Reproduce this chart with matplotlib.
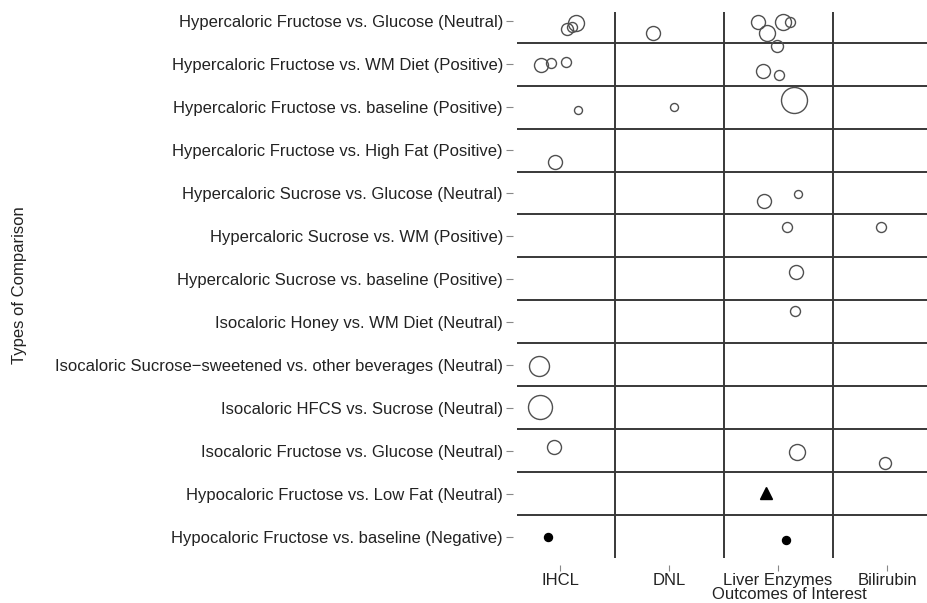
import matplotlib
matplotlib.use("Agg")
import matplotlib.pyplot as plt

plt.rcParams["font.family"] = ["Liberation Sans", "DejaVu Sans"]

OUTCOMES = ["IHCL", "DNL", "Liver Enzymes", "Bilirubin"]

COMPARISONS = [
    "Hypercaloric Fructose vs. Glucose (Neutral)",
    "Hypercaloric Fructose vs. WM Diet (Positive)",
    "Hypercaloric Fructose vs. baseline (Positive)",
    "Hypercaloric Fructose vs. High Fat (Positive)",
    "Hypercaloric Sucrose vs. Glucose (Neutral)",
    "Hypercaloric Sucrose vs. WM (Positive)",
    "Hypercaloric Sucrose vs. baseline (Positive)",
    "Isocaloric Honey vs. WM Diet (Neutral)",
    "Isocaloric Sucrose\u2212sweetened vs. other beverages (Neutral)",
    "Isocaloric HFCS vs. Sucrose (Neutral)",
    "Isocaloric Fructose vs. Glucose (Neutral)",
    "Hypocaloric Fructose vs. Low Fat (Neutral)",
    "Hypocaloric Fructose vs. baseline (Negative)",
]

# jittered study positions: outcome (1..4) and comparison row (0 = top)
study_x = [1.147, 1.064, 1.110, 1.853, 2.817, 2.899, 3.046, 3.110,
           2.991, 0.826, 0.917, 1.055, 2.862, 3.009,
           1.165, 2.046, 3.147,
           0.954,
           2.872, 3.183,
           3.083, 3.945,
           3.165,
           3.156,
           0.807,
           0.817,
           0.945, 3.174, 3.982,
           2.890,
           0.890, 3.073]
study_y = [0.05, 0.19, 0.14, 0.28, 0.02, 0.28, 0.02, 0.02,
           0.58, 1.02, 0.98, 0.95, 1.16, 1.26,
           2.07, 2.00, 1.84,
           3.28,
           4.19, 4.02,
           4.79, 4.79,
           5.84,
           6.74,
           8.02,
           8.98,
           9.91, 10.02, 10.28,
           10.98,
           12.00, 12.07]
# relative study size (circle radius)
study_size = [8, 6, 5, 7, 7, 8, 8, 5,
              6, 7, 5, 5, 7, 5,
              4, 4, 13,
              7,
              7, 4,
              5, 5,
              7,
              5,
              10,
              12,
              7, 8, 6,
              5,
              4, 4]
# o = open circle, t = filled triangle, f = filled circle
study_kind = ["o"] * 29 + ["t", "f", "f"]

fig = plt.figure(figsize=(9.28, 6.03), dpi=100)
ax = fig.add_axes([517 / 928, 45 / 603, 411 / 928, 546 / 603])

line_col = "#383838"
for k in range(len(COMPARISONS) - 1):
    ax.axhline(k + 0.5, color=line_col, lw=1.4, zorder=1)
for k in range(len(OUTCOMES) - 1):
    ax.axvline(k + 1.5, color=line_col, lw=1.4, zorder=1)

for x, y, s, kind in zip(study_x, study_y, study_size, study_kind):
    ms = 2 * s * 0.72
    if kind == "o":
        ax.plot(x, y, "o", ms=ms, mfc="none", mec="#505050", mew=1.0, zorder=3)
    elif kind == "t":
        ax.plot(x, y, "^", ms=9, color="black", zorder=3)
    else:
        ax.plot(x, y, "o", ms=ms, color="black", zorder=3)

ax.set_xlim(0.6055, 4.376)
ax.set_ylim(12.49, -0.21)

ax.set_xticks(range(1, len(OUTCOMES) + 1))
ax.set_xticklabels(OUTCOMES)
ax.set_yticks(range(len(COMPARISONS)))
ax.set_yticklabels(COMPARISONS)

for side in ["top", "right", "bottom", "left"]:
    ax.spines[side].set_visible(False)
ax.spines["bottom"].set_position(("outward", 5))
ax.spines["left"].set_position(("outward", 3))
ax.tick_params(axis="x", length=4, width=0.8, color="#888888", pad=2,
               labelsize=12, labelcolor="#222222")
ax.tick_params(axis="y", length=5, width=0.8, color="#888888", pad=2,
               labelsize=12, labelcolor="#222222")

ax.set_xlabel("Outcomes of Interest", fontsize=12, color="#222222")
ax.xaxis.set_label_coords((789 - 517) / 411, -0.053)
ax.set_ylabel("Types of Comparison", fontsize=12, color="#222222")
ax.yaxis.set_label_coords(-(517 - 27) / 411, 0.5)

fig.savefig("out.png", dpi=100)
